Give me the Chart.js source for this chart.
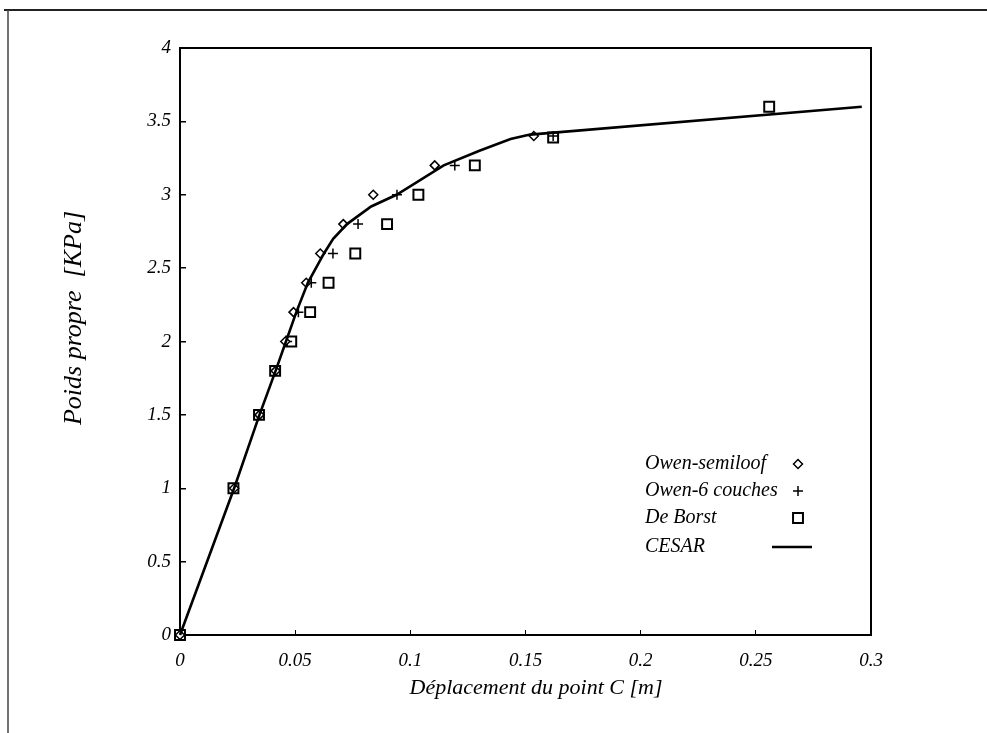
<!DOCTYPE html>
<html><head><meta charset="utf-8">
<script src="https://cdn.jsdelivr.net/npm/chart.js@4"></script>
<style>html,body{margin:0;padding:0;background:#fff;}#wrap{position:relative;width:987px;height:733px;}</style>
</head><body><div id="wrap"><canvas id="c" width="987" height="733"></canvas></div>
<script>
// ---- data ----
const xTickValues = [0, 0.05, 0.1, 0.15, 0.2, 0.25, 0.3];
const xTickLabels = ['0', '0.05', '0.1', '0.15', '0.2', '0.25', '0.3'];
const yTickValues = [0, 0.5, 1, 1.5, 2, 2.5, 3, 3.5, 4];
const yTickLabels = ['0', '0.5', '1', '1.5', '2', '2.5', '3', '3.5', '4'];

const seriesNames = ['Owen-semiloof', 'Owen-6 couches', 'De Borst', 'CESAR'];

const owenSemiloofX = [0, 0.0235, 0.0345, 0.0415, 0.0457, 0.0493, 0.0548, 0.0609, 0.0709, 0.0839, 0.1106, 0.1536];
const owenSemiloofY = [0, 1.0, 1.5, 1.8, 2.0, 2.2, 2.4, 2.6, 2.8, 3.0, 3.2, 3.4];

const owen6X = [0, 0.0235, 0.0345, 0.0415, 0.0465, 0.0514, 0.057, 0.0664, 0.0773, 0.0942, 0.1193, 0.162];
const owen6Y = [0, 1.0, 1.5, 1.8, 2.0, 2.2, 2.4, 2.6, 2.8, 3.0, 3.2, 3.4];

const deBorstX = [0, 0.0232, 0.0343, 0.0413, 0.0483, 0.0565, 0.0645, 0.0761, 0.0899, 0.1035, 0.128, 0.162, 0.2558];
const deBorstY = [0, 1.0, 1.5, 1.8, 2.0, 2.2, 2.4, 2.6, 2.8, 3.0, 3.2, 3.39, 3.6];

const cesarX = [0, 0.0235, 0.0345, 0.0415, 0.046, 0.0505, 0.0555, 0.0625, 0.0665, 0.0725, 0.083, 0.094, 0.1145, 0.13, 0.1435, 0.152, 0.296];
const cesarY = [0, 1.0, 1.5, 1.8, 2.0, 2.2, 2.4, 2.6, 2.7, 2.8, 2.92, 3.0, 3.2, 3.3, 3.38, 3.41, 3.6];

const xTitle = 'Déplacement du point C [m]';
const yTitle = 'Poids propre  [KPa]';

// ---- build ----
const pts = (xs, ys) => xs.map((x, i) => ({x: x, y: ys[i]}));
const SERIF = "'Liberation Serif', 'DejaVu Serif', serif";

const datasets = [
  {label: seriesNames[3], data: pts(cesarX, cesarY), showLine: true, borderColor: '#000', borderWidth: 2.6,
   pointRadius: 0, tension: 0, clip: false, order: 0},
  {label: seriesNames[0], data: pts(owenSemiloofX, owenSemiloofY), pointStyle: 'rectRot', pointRadius: 4.5,
   borderColor: '#000', backgroundColor: '#fff', borderWidth: 1.5, showLine: false, clip: false, order: 1},
  {label: seriesNames[1], data: pts(owen6X, owen6Y), pointStyle: 'cross', pointRadius: 5,
   borderColor: '#000', backgroundColor: '#000', borderWidth: 1.5, showLine: false, clip: false, order: 2},
  {label: seriesNames[2], data: pts(deBorstX, deBorstY), pointStyle: 'rect', pointRadius: 7,
   borderColor: '#000', backgroundColor: '#fff', borderWidth: 2, showLine: false, clip: false, order: 3}
];

const decor = {
  id: 'decor',
  beforeDraw(chart) {
    const ctx = chart.ctx;
    ctx.save();
    ctx.fillStyle = '#fff';
    ctx.fillRect(0, 0, chart.width, chart.height);
    ctx.strokeStyle = '#222';
    ctx.lineWidth = 2;
    ctx.beginPath();
    ctx.moveTo(4, 10); ctx.lineTo(987, 10);
    ctx.stroke();
    ctx.lineWidth = 1.5;
    ctx.strokeStyle = '#444';
    ctx.beginPath();
    ctx.moveTo(8, 10); ctx.lineTo(8, 733);
    ctx.stroke();
    ctx.restore();
  },
  afterDraw(chart) {
    const ctx = chart.ctx;
    const a = chart.chartArea;
    ctx.save();
    // top & right frame of plot box
    ctx.strokeStyle = '#000';
    ctx.lineWidth = 2;
    ctx.beginPath();
    ctx.moveTo(a.left, a.top); ctx.lineTo(a.right, a.top); ctx.lineTo(a.right, a.bottom);
    ctx.stroke();
    // axis titles
    ctx.fillStyle = '#000';
    ctx.font = 'italic 22px ' + SERIF;
    ctx.textAlign = 'center';
    ctx.textBaseline = 'middle';
    ctx.fillText(xTitle, 536, 688);
    ctx.save();
    ctx.translate(74, 318);
    ctx.rotate(-Math.PI / 2);
    ctx.font = 'italic 26px ' + SERIF;
    ctx.fillText(yTitle, 0, 0);
    ctx.restore();
    // legend
    const rows = [464, 491, 518, 547];
    const order = [1, 2, 3, 0];
    ctx.font = 'italic 20px ' + SERIF;
    ctx.textAlign = 'left';
    order.forEach((di, r) => {
      const ds = chart.data.datasets[di];
      const y = rows[r];
      ctx.fillStyle = '#000';
      ctx.fillText(ds.label, 645, y);
      if (ds.showLine) {
        ctx.strokeStyle = '#000';
        ctx.lineWidth = 2.6;
        ctx.beginPath();
        ctx.moveTo(772, y); ctx.lineTo(812, y);
        ctx.stroke();
      } else {
        ctx.strokeStyle = ds.borderColor;
        ctx.fillStyle = ds.backgroundColor;
        ctx.lineWidth = ds.borderWidth;
        Chart.helpers.drawPoint(ctx, {pointStyle: ds.pointStyle, radius: ds.pointRadius, rotation: 0, borderWidth: ds.borderWidth}, 798, y);
      }
    });
    ctx.restore();
  }
};

new Chart(document.getElementById('c'), {
  type: 'scatter',
  data: {datasets: datasets},
  options: {
    responsive: false,
    devicePixelRatio: 1,
    animation: false,
    layout: {padding: {top: 48, right: 116, left: 0, bottom: 0}},
    plugins: {legend: {display: false}, tooltip: {enabled: false}},
    scales: {
      x: {
        type: 'linear', min: 0, max: 0.3,
        afterBuildTicks: s => { s.ticks = xTickValues.map(v => ({value: v})); },
        afterFit: s => { s.height = 98; },
        grid: {drawOnChartArea: false, drawTicks: true, tickLength: -5, color: '#000', lineWidth: 1},
        border: {color: '#000', width: 2},
        ticks: {color: '#000', font: {family: SERIF, style: 'italic', size: 19}, padding: 20,
                maxRotation: 0, autoSkip: false, callback: (v, i) => xTickLabels[i]}
      },
      y: {
        type: 'linear', min: 0, max: 4,
        afterBuildTicks: s => { s.ticks = yTickValues.map(v => ({value: v})); },
        afterFit: s => { s.width = 180; },
        grid: {drawOnChartArea: false, drawTicks: true, tickLength: -6, color: '#000', lineWidth: 1.5},
        border: {color: '#000', width: 2},
        ticks: {color: '#000', font: {family: SERIF, style: 'italic', size: 19}, padding: 15,
                autoSkip: false, callback: (v, i) => yTickLabels[i]}
      }
    }
  },
  plugins: [decor]
});
</script></body></html>
